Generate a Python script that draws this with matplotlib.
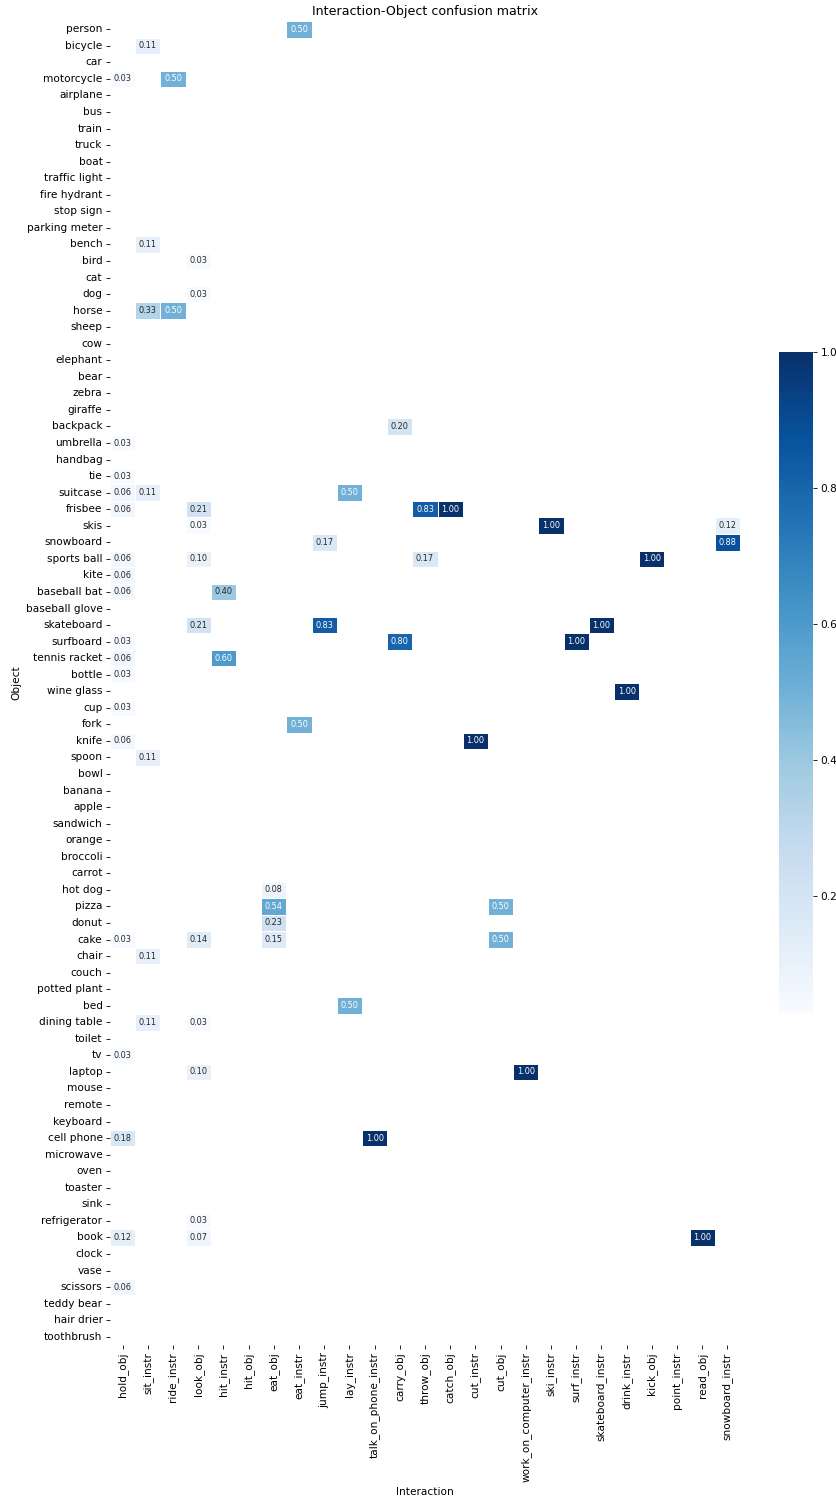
import numpy as np
import pandas as pd
import matplotlib
matplotlib.use("Agg")
import matplotlib.pyplot as plt
import seaborn as sns

objects = ["person", "bicycle", "car", "motorcycle", "airplane", "bus", "train", "truck", "boat",
           "traffic light", "fire hydrant", "stop sign", "parking meter", "bench", "bird", "cat", "dog",
           "horse", "sheep", "cow", "elephant", "bear", "zebra", "giraffe", "backpack", "umbrella",
           "handbag", "tie", "suitcase", "frisbee", "skis", "snowboard", "sports ball", "kite",
           "baseball bat", "baseball glove", "skateboard", "surfboard", "tennis racket", "bottle",
           "wine glass", "cup", "fork", "knife", "spoon", "bowl", "banana", "apple", "sandwich",
           "orange", "broccoli", "carrot", "hot dog", "pizza", "donut", "cake", "chair", "couch",
           "potted plant", "bed", "dining table", "toilet", "tv", "laptop", "mouse", "remote",
           "keyboard", "cell phone", "microwave", "oven", "toaster", "sink", "refrigerator", "book",
           "clock", "vase", "scissors", "teddy bear", "hair drier", "toothbrush"]

interactions = ["hold_obj", "sit_instr", "ride_instr", "look_obj", "hit_instr", "hit_obj", "eat_obj",
                "eat_instr", "jump_instr", "lay_instr", "talk_on_phone_instr", "carry_obj", "throw_obj",
                "catch_obj", "cut_instr", "cut_obj", "work_on_computer_instr", "ski_instr", "surf_instr",
                "skateboard_instr", "drink_instr", "kick_obj", "point_instr", "read_obj", "snowboard_instr"]

# nonzero cells: (object, interaction, value)
cell_objects = ["person", "bicycle", "motorcycle", "motorcycle", "bench", "bird", "dog", "horse", "horse",
                "backpack", "umbrella", "tie", "suitcase", "suitcase", "suitcase",
                "frisbee", "frisbee", "frisbee", "frisbee", "skis", "skis", "skis",
                "snowboard", "snowboard", "sports ball", "sports ball", "sports ball", "sports ball",
                "kite", "baseball bat", "baseball bat", "skateboard", "skateboard", "skateboard",
                "surfboard", "surfboard", "surfboard", "tennis racket", "tennis racket", "bottle",
                "wine glass", "cup", "fork", "knife", "knife", "spoon", "hot dog", "pizza", "pizza",
                "donut", "cake", "cake", "cake", "cake", "chair", "bed", "dining table", "dining table",
                "tv", "laptop", "laptop", "cell phone", "cell phone", "refrigerator",
                "book", "book", "book", "scissors"]
cell_interactions = ["eat_instr", "sit_instr", "hold_obj", "ride_instr", "sit_instr", "look_obj", "look_obj",
                     "sit_instr", "ride_instr",
                     "carry_obj", "hold_obj", "hold_obj", "hold_obj", "sit_instr", "lay_instr",
                     "hold_obj", "look_obj", "throw_obj", "catch_obj", "look_obj", "ski_instr", "snowboard_instr",
                     "jump_instr", "snowboard_instr", "hold_obj", "look_obj", "throw_obj", "kick_obj",
                     "hold_obj", "hold_obj", "hit_instr", "look_obj", "jump_instr", "skateboard_instr",
                     "hold_obj", "carry_obj", "surf_instr", "hold_obj", "hit_instr", "hold_obj",
                     "drink_instr", "hold_obj", "eat_instr", "hold_obj", "cut_instr", "sit_instr", "eat_obj",
                     "eat_obj", "cut_obj",
                     "eat_obj", "hold_obj", "look_obj", "eat_obj", "cut_obj", "sit_instr", "lay_instr",
                     "sit_instr", "look_obj",
                     "hold_obj", "look_obj", "work_on_computer_instr", "hold_obj", "talk_on_phone_instr",
                     "look_obj",
                     "hold_obj", "look_obj", "read_obj", "hold_obj"]
cell_values = [0.50, 0.11, 0.03, 0.50, 0.11, 0.03, 0.03, 0.33, 0.50,
               0.20, 0.03, 0.03, 0.06, 0.11, 0.50,
               0.06, 0.21, 0.83, 1.00, 0.03, 1.00, 0.12,
               0.17, 0.88, 0.06, 0.10, 0.17, 1.00,
               0.06, 0.06, 0.40, 0.21, 0.83, 1.00,
               0.03, 0.80, 1.00, 0.06, 0.60, 0.03,
               1.00, 0.03, 0.50, 0.06, 1.00, 0.11, 0.08,
               0.54, 0.50,
               0.23, 0.03, 0.14, 0.15, 0.50, 0.11, 0.50,
               0.11, 0.03,
               0.03, 0.10, 1.00, 0.18, 1.00,
               0.03,
               0.12, 0.07, 1.00, 0.06]

df = pd.DataFrame(0.0, index=objects, columns=interactions)
for o, i, v in zip(cell_objects, cell_interactions, cell_values):
    df.loc[o, i] = v

FS = 7.6
W, H = 837, 1501
fig = plt.figure(figsize=(W / 100, H / 100), dpi=100)
ax = fig.add_axes([110 / W, 1 - 1345 / H, 630 / W, 1324 / H])
cax = fig.add_axes([779 / W, 1 - 1013 / H, 34 / W, 661 / H])

mask = df.values == 0
sns.heatmap(df, mask=mask, cmap="Blues", annot=True, fmt=".2f", annot_kws={"size": 5.9},
            linewidths=0.4, linecolor="white", ax=ax, cbar_ax=cax,
            vmin=0.028, vmax=1.0, xticklabels=True, yticklabels=True)
cax.set_yticks([0.2, 0.4, 0.6, 0.8, 1.0])
cax.tick_params(labelsize=FS, length=2.7, width=0.6, pad=2.7)
for s in cax.spines.values():
    s.set_visible(False)

ax.set_title("Interaction-Object confusion matrix", fontsize=9.1, pad=4.5)
ax.set_xlabel("Interaction", fontsize=FS, labelpad=3)
ax.set_ylabel("Object", fontsize=FS, labelpad=3)
ax.tick_params(axis="x", labelrotation=90, labelsize=FS, length=2.7, width=0.6, pad=2.7)
ax.tick_params(axis="y", labelrotation=0, labelsize=FS, length=2.7, width=0.6, pad=2.7)

fig.savefig("out.png", dpi=100)
